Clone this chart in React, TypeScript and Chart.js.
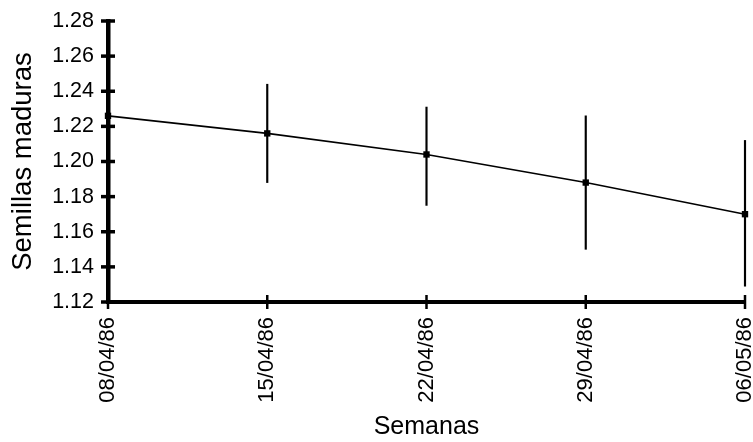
import React, { useEffect, useRef } from "react";
import { Chart, registerables } from "chart.js";

Chart.register(...registerables);

const categories = ["08/04/86", "15/04/86", "22/04/86", "29/04/86", "06/05/86"];
const meanValues = [1.226, 1.216, 1.204, 1.188, 1.17];
const errLow = [null, 1.188, 1.175, 1.15, 1.129];
const errHigh = [null, 1.244, 1.231, 1.226, 1.212];
const yMin = 1.12;
const yMax = 1.28;
const yStep = 0.02;
const xTitle = "Semanas";
const yTitle = "Semillas maduras";

const FONT = "'Liberation Sans', Arial, Helvetica, sans-serif";

const crossTicks = {
  id: "crossTicks",
  afterDraw(chart: any) {
    const ctx = chart.ctx;
    const x = chart.scales.x;
    const y = chart.scales.y;
    const area = chart.chartArea;
    ctx.save();
    ctx.strokeStyle = "#000";
    ctx.lineWidth = 3.5;
    y.ticks.forEach((_t: any, i: number) => {
      const py = y.getPixelForTick(i);
      ctx.beginPath();
      ctx.moveTo(area.left - 7, py);
      ctx.lineTo(area.left + 7, py);
      ctx.stroke();
    });
    ctx.lineWidth = 2.5;
    x.ticks.forEach((_t: any, i: number) => {
      const px = x.getPixelForTick(i);
      ctx.beginPath();
      ctx.moveTo(px, area.bottom - 7);
      ctx.lineTo(px, area.bottom + 7);
      ctx.stroke();
    });
    ctx.restore();
  },
};

export default function App() {
  const ref = useRef<HTMLCanvasElement | null>(null);

  useEffect(() => {
    document.body.style.margin = "0";
    const canvas = ref.current;
    if (!canvas) return;
    const errData = categories.map((_c, i) =>
      errLow[i] == null || errHigh[i] == null ? null : [errLow[i], errHigh[i]]
    );
    const chart = new Chart(canvas, {
      type: "line",
      data: {
        labels: categories,
        datasets: [
          {
            type: "line",
            data: meanValues,
            borderColor: "#000",
            borderWidth: 1.6,
            pointStyle: "rect",
            pointRadius: 4.5,
            pointBackgroundColor: "#000",
            pointBorderColor: "#000",
            pointBorderWidth: 0,
            tension: 0,
            fill: false,
            clip: false,
            order: 1,
          } as any,
          {
            type: "bar",
            data: errData as any,
            backgroundColor: "#000",
            borderWidth: 0,
            barThickness: 1.5,
            clip: false,
            order: 2,
          } as any,
        ],
      },
      options: {
        responsive: false,
        animation: false,
        maintainAspectRatio: false,
        layout: { padding: { top: 21, right: 8, left: 0, bottom: 0 } },
        plugins: {
          legend: { display: false },
          tooltip: { enabled: false },
        },
        scales: {
          x: {
            type: "category",
            offset: false,
            grid: { display: false, offset: false, drawTicks: false },
            border: { display: true, color: "#000", width: 4 },
            ticks: {
              color: "#000",
              font: { family: FONT, size: 22 },
              minRotation: 90,
              maxRotation: 90,
              padding: 15,
              autoSkip: false,
            },
            title: {
              display: true,
              text: xTitle,
              color: "#000",
              font: { family: FONT, size: 25 },
              padding: { top: 0, bottom: 0 },
            },
            afterFit(scale: any) {
              scale.height = 140;
              scale.paddingLeft = 0;
              scale.paddingRight = 0;
            },
          },
          y: {
            min: yMin,
            max: yMax,
            grid: { display: false, drawTicks: false },
            border: { display: true, color: "#000", width: 4.5 },
            ticks: {
              stepSize: yStep,
              color: "#000",
              font: { family: FONT, size: 21.5 },
              padding: 14,
              callback: (v: any) => Number(v).toFixed(2),
            },
            title: {
              display: true,
              text: yTitle,
              color: "#000",
              font: { family: FONT, size: 27.5 },
              padding: { top: 7, bottom: 0 },
            },
            afterFit(scale: any) {
              scale.width = 108;
              scale.paddingTop = 0;
              scale.paddingBottom = 0;
            },
          },
        },
      },
      plugins: [crossTicks],
    });
    return () => chart.destroy();
  }, []);

  return (
    <div style={{ width: 753, height: 442, position: "relative", background: "#fff" }}>
      <canvas ref={ref} width={753} height={442} style={{ display: "block" }} />
    </div>
  );
}
